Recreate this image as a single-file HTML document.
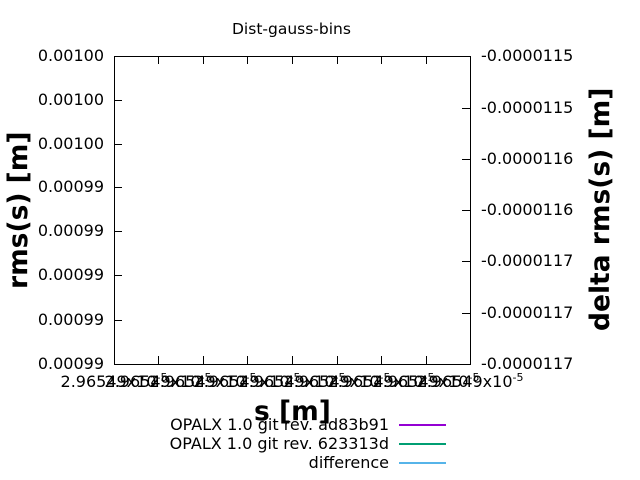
<!DOCTYPE html>
<html><head><style>
body{margin:0;width:640px;height:480px;background:#fff;font-family:"DejaVu Sans",sans-serif;overflow:hidden}
.t{position:absolute;font-size:16px;line-height:18px;color:#000;white-space:nowrap}
.xl{position:absolute;top:373px;font-size:16px;line-height:18px;white-space:nowrap;transform:translateX(-50%)}
.xl sup{font-size:11px;vertical-align:6px;line-height:0}
</style></head><body>
<svg width="640" height="480" style="position:absolute;left:0;top:0">
<rect x="114.5" y="56.5" width="356" height="308" fill="none" stroke="#000" stroke-width="1"/>
<g stroke="#000" stroke-width="1">
<path d="M114 100.5h8M114 144.5h8M114 187.5h8M114 231.5h8M114 275.5h8M114 320.5h8"/>
<path d="M470 108.5h-8M470 159.5h-8M470 210.5h-8M470 261.5h-8M470 313.5h-8"/>
<path d="M158.5 364v-8M203.5 364v-8M247.5 364v-8M292.5 364v-8M337.5 364v-8M381.5 364v-8M426.5 364v-8"/>
<path d="M158.5 56v8M203.5 56v8M247.5 56v8M292.5 56v8M337.5 56v8M381.5 56v8M426.5 56v8"/>
</g>
<g stroke-width="2">
<line x1="399" y1="425" x2="446" y2="425" stroke="#9400d3"/>
<line x1="399" y1="444" x2="446" y2="444" stroke="#009e73"/>
<line x1="399" y1="463" x2="446" y2="463" stroke="#56b4e9"/>
</g>
</svg>
<div class="t" style="left:232px;top:20px;font-size:15.5px">Dist-gauss-bins</div>
<div class="t" style="right:536px;top:47px">0.00100</div>
<div class="t" style="right:536px;top:91px">0.00100</div>
<div class="t" style="right:536px;top:135px">0.00100</div>
<div class="t" style="right:536px;top:178px">0.00099</div>
<div class="t" style="right:536px;top:222px">0.00099</div>
<div class="t" style="right:536px;top:266px">0.00099</div>
<div class="t" style="right:536px;top:311px">0.00099</div>
<div class="t" style="right:536px;top:355px">0.00099</div>
<div class="t" style="left:481px;top:47px">-0.0000115</div>
<div class="t" style="left:481px;top:99px">-0.0000115</div>
<div class="t" style="left:481px;top:150px">-0.0000116</div>
<div class="t" style="left:481px;top:201px">-0.0000116</div>
<div class="t" style="left:481px;top:252px">-0.0000117</div>
<div class="t" style="left:481px;top:304px">-0.0000117</div>
<div class="t" style="left:481px;top:355px">-0.0000117</div>
<div class="xl" style="left:114px">2.96549x10<sup>-5</sup></div>
<div class="xl" style="left:158px">2.96549x10<sup>-5</sup></div>
<div class="xl" style="left:203px">2.96549x10<sup>-5</sup></div>
<div class="xl" style="left:247px">2.96549x10<sup>-5</sup></div>
<div class="xl" style="left:292px">2.96549x10<sup>-5</sup></div>
<div class="xl" style="left:337px">2.96549x10<sup>-5</sup></div>
<div class="xl" style="left:381px">2.96549x10<sup>-5</sup></div>
<div class="xl" style="left:426px">2.96549x10<sup>-5</sup></div>
<div class="xl" style="left:470px">2.96549x10<sup>-5</sup></div>
<div class="t" style="left:254px;top:396px;font-size:26.5px;line-height:32px;font-weight:bold">s [m]</div>
<div class="t" style="left:3px;top:289px;font-size:26.5px;line-height:32px;font-weight:bold;transform:rotate(-90deg);transform-origin:0 0">rms(s) [m]</div>
<div class="t" style="left:585px;top:331px;font-size:26.5px;line-height:32px;font-weight:bold;transform:rotate(-90deg);transform-origin:0 0">delta rms(s) [m]</div>
<div class="t" style="right:251px;top:416px">OPALX 1.0 git rev. ad83b91</div>
<div class="t" style="right:251px;top:435px">OPALX 1.0 git rev. 623313d</div>
<div class="t" style="right:251px;top:454px">difference</div>
</body></html>
